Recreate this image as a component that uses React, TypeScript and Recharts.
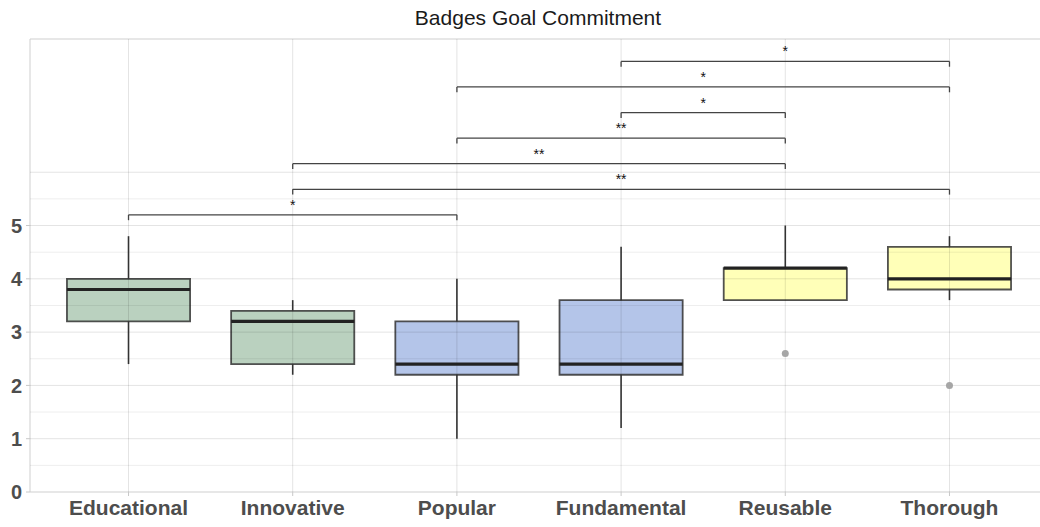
import React from "react";
import {
  ComposedChart,
  XAxis,
  YAxis,
  Scatter,
  ReferenceArea,
  ReferenceLine,
  ReferenceDot,
} from "recharts";

const categories = ["Educational", "Innovative", "Popular", "Fundamental", "Reusable", "Thorough"];
const whiskerLow = [2.4, 2.2, 1.0, 1.2, 3.6, 3.6];
const q1 = [3.2, 2.4, 2.2, 2.2, 3.6, 3.8];
const median = [3.8, 3.2, 2.4, 2.4, 4.2, 4.0];
const q3 = [4.0, 3.4, 3.2, 3.6, 4.2, 4.6];
const whiskerHigh = [4.8, 3.6, 4.0, 4.6, 5.0, 4.8];
const boxColors = ["#b6cfbc", "#b6cfbc", "#b0c2e8", "#b0c2e8", "#ffffb4", "#ffffb4"];

const outlierCats = ["Reusable", "Thorough"];
const outlierValues = [2.6, 2.0];

const compFrom = ["Educational", "Innovative", "Innovative", "Popular", "Fundamental", "Popular", "Fundamental"];
const compTo = ["Popular", "Thorough", "Reusable", "Reusable", "Reusable", "Thorough", "Thorough"];
const compY = [5.2, 5.68, 6.16, 6.64, 7.12, 7.6, 8.08];
const compLabel = ["*", "**", "**", "**", "*", "*", "*"];

const yTicks = [0, 1, 2, 3, 4, 5];
const gridValues = [0.5, 1, 1.5, 2, 2.5, 3, 3.5, 4, 4.5, 5, 5.5, 6];

const pos = (c: string) => categories.indexOf(c) + 1;
const HALF = 0.375;
const TIP = 0.1;
const FONT = "'Liberation Sans', Arial, sans-serif";

const outlierData = outlierCats.map((c, i) => ({ x: pos(c), y: outlierValues[i] }));

export default function App() {
  return (
    <div style={{ position: "absolute", left: 0, top: 0, width: 1040, height: 527, overflow: "hidden", background: "#fff", fontFamily: FONT }}>
      <div style={{ position: "absolute", top: 5, left: 0, width: 1076, textAlign: "center", fontSize: 21, lineHeight: "25px", color: "#1a1a1a" }}>
        Badges Goal Commitment
      </div>
      <ComposedChart width={1050} height={527} margin={{ top: 39, right: 2, bottom: 0, left: 0 }}>
        <XAxis
          type="number"
          dataKey="x"
          domain={[0.4, 6.6]}
          ticks={[1, 2, 3, 4, 5, 6]}
          tickFormatter={(v: number) => categories[v - 1]}
          height={35}
          axisLine={false}
          tickLine={{ stroke: "#c8c8c8" }}
          tickSize={4}
          tickMargin={4}
          tick={{ fill: "#4d4d4d", fontSize: 21, fontWeight: "bold", fontFamily: FONT }}
          allowDataOverflow
        />
        <YAxis
          type="number"
          domain={[0, 8.5]}
          ticks={yTicks}
          width={30}
          axisLine={false}
          tickLine={{ stroke: "#c8c8c8" }}
          tickSize={4}
          tickMargin={4}
          tick={{ fill: "#4d4d4d", fontSize: 20, fontWeight: "bold", fontFamily: FONT }}
          allowDataOverflow
        />
        {gridValues.map((v) => (
          <ReferenceLine key={"h" + v} y={v} stroke="#000" strokeOpacity={Number.isInteger(v) ? 0.11 : 0.07} strokeWidth={1} />
        ))}
        {categories.map((c) => (
          <ReferenceLine key={"v" + c} x={pos(c)} stroke="#000" strokeOpacity={0.11} strokeWidth={1} />
        ))}
        <ReferenceArea x1={0.4} x2={6.6} y1={0} y2={8.5} fill="none" stroke="#cfcfcf" strokeWidth={1} ifOverflow="visible" />
        {categories.map((c, i) => (
          <ReferenceLine
            key={"wl" + c}
            segment={[{ x: pos(c), y: whiskerLow[i] }, { x: pos(c), y: q1[i] }]}
            stroke="#333"
            strokeWidth={1.6}
          />
        ))}
        {categories.map((c, i) => (
          <ReferenceLine
            key={"wh" + c}
            segment={[{ x: pos(c), y: q3[i] }, { x: pos(c), y: whiskerHigh[i] }]}
            stroke="#333"
            strokeWidth={1.6}
          />
        ))}
        {categories.map((c, i) => (
          <ReferenceArea
            key={"box" + c}
            x1={pos(c) - HALF}
            x2={pos(c) + HALF}
            y1={q1[i]}
            y2={q3[i]}
            fill={boxColors[i]}
            fillOpacity={0.95}
            stroke="#333"
            strokeOpacity={0.85}
            strokeWidth={1.8}
          />
        ))}
        {categories.map((c, i) => (
          <ReferenceLine
            key={"med" + c}
            segment={[{ x: pos(c) - HALF, y: median[i] }, { x: pos(c) + HALF, y: median[i] }]}
            stroke="#222"
            strokeWidth={3.2}
          />
        ))}
        {compFrom.map((f, i) => (
          <ReferenceLine
            key={"b" + i}
            segment={[{ x: pos(f), y: compY[i] }, { x: pos(compTo[i]), y: compY[i] }]}
            stroke="#444"
            strokeWidth={1.3}
          />
        ))}
        {compFrom.map((f, i) => (
          <ReferenceLine
            key={"bl" + i}
            segment={[{ x: pos(f), y: compY[i] }, { x: pos(f), y: compY[i] - TIP }]}
            stroke="#444"
            strokeWidth={1.3}
          />
        ))}
        {compTo.map((t, i) => (
          <ReferenceLine
            key={"br" + i}
            segment={[{ x: pos(t), y: compY[i] }, { x: pos(t), y: compY[i] - TIP }]}
            stroke="#444"
            strokeWidth={1.3}
          />
        ))}
        {compFrom.map((f, i) => (
          <ReferenceDot
            key={"s" + i}
            x={(pos(f) + pos(compTo[i])) / 2}
            y={compY[i]}
            r={0}
            shape={(p: any) => (
              <text x={p.cx} y={p.cy - 5} textAnchor="middle" fontSize={14} fill="#111" fontFamily={FONT}>
                {compLabel[i]}
              </text>
            )}
          />
        ))}
        <Scatter
          data={outlierData}
          dataKey="y"
          isAnimationActive={false}
          shape={(p: any) => <circle cx={p.cx} cy={p.cy} r={3.5} fill="#a6a6a6" />}
        />
      </ComposedChart>
    </div>
  );
}
